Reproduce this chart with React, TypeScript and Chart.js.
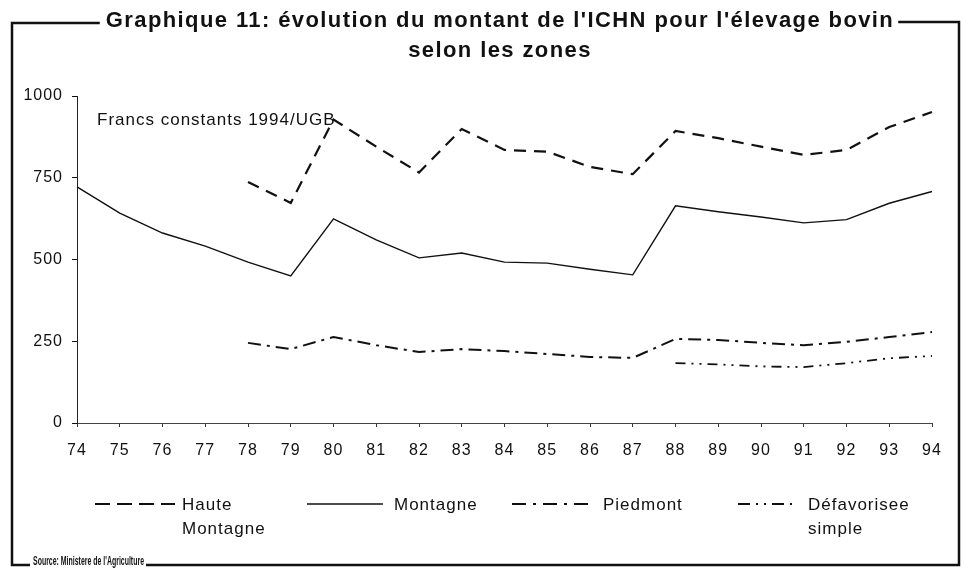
import React, { useEffect, useRef } from 'react';
import { Chart, registerables } from 'chart.js';

Chart.register(...registerables);

const years = ['74', '75', '76', '77', '78', '79', '80', '81', '82', '83', '84', '85', '86', '87', '88', '89', '90', '91', '92', '93', '94'];
const hauteMontagne = [null, null, null, null, 737, 673, 928, 845, 766, 899, 835, 830, 783, 761, 893, 871, 845, 820, 835, 905, 951];
const montagne = [722, 642, 581, 541, 492, 450, 624, 560, 505, 520, 492, 489, 470, 453, 664, 646, 630, 612, 622, 672, 708];
const piedmont = [null, null, null, null, 245, 226, 263, 238, 217, 226, 220, 211, 202, 199, 257, 254, 245, 238, 248, 263, 278];
const defavorisee = [null, null, null, null, null, null, null, null, null, null, null, null, null, null, 183, 179, 173, 171, 183, 198, 205];
const yMin = 0;
const yMax = 1000;
const yStep = 250;

const titleLine1 = "Graphique 11: évolution du montant de l'ICHN pour l'élevage bovin";
const titleLine2 = 'selon les zones';
const unitNote = 'Francs constants 1994/UGB';
const sourceNote = "Source: Ministere de l'Agriculture";
const seriesNames = [['Haute', 'Montagne'], ['Montagne'], ['Piedmont'], ['Défavorisee', 'simple']];

const FONT = '"Liberation Sans", Arial, Helvetica, sans-serif';
const INK = '#111';

const dashHaute = [12, 8];
const dashMontagne: number[] = [];
const dashPiedmont = [13, 6, 3, 6];
const dashDefav = [10, 6, 2, 6, 2, 6];

const legendLayout = [
  { x0: 95, x1: 175, tx: 182, dash: [15, 7], width: 2.2 },
  { x0: 307, x1: 383, tx: 394, dash: [], width: 1.3 },
  { x0: 512, x1: 592, tx: 603, dash: [14, 7, 3, 7], width: 2 },
  { x0: 738, x1: 793, tx: 808, dash: [12, 6, 2, 6, 2, 6], width: 1.8 },
];

const decorPlugin = {
  id: 'decor',
  beforeUpdate(chart: any) {
    chart.ctx.letterSpacing = '1px';
  },
  beforeDraw(chart: any) {
    const ctx = chart.ctx;
    ctx.save();
    ctx.fillStyle = '#fff';
    ctx.fillRect(0, 0, chart.width, chart.height);
    ctx.restore();
    ctx.letterSpacing = '1px';
  },
  afterDraw(chart: any) {
    const ctx = chart.ctx as CanvasRenderingContext2D;
    ctx.save();
    ctx.fillStyle = INK;
    ctx.strokeStyle = INK;

    // Title
    ctx.font = `bold 22px ${FONT}`;
    (ctx as any).letterSpacing = '1.4px';
    ctx.textAlign = 'center';
    ctx.textBaseline = 'middle';
    const cx = 500;
    ctx.fillText(titleLine1, cx, 21);
    const w1 = ctx.measureText(titleLine1).width;
    ctx.fillText(titleLine2, cx, 51);

    // Frame
    const fl = 12, fr = 959, ft = 23, fb = 565;
    ctx.lineWidth = 2.5;
    ctx.setLineDash([]);
    ctx.beginPath();
    ctx.moveTo(cx - w1 / 2 - 6, ft);
    ctx.lineTo(fl, ft);
    ctx.lineTo(fl, fb);
    ctx.lineTo(30, fb);
    ctx.stroke();

    ctx.beginPath();
    ctx.moveTo(cx + w1 / 2 + 4, ft - 1);
    ctx.lineTo(fr, ft - 1);
    ctx.lineTo(fr, fb);
    ctx.lineTo(146, fb);
    ctx.stroke();

    // Source
    ctx.font = `bold 12px ${FONT}`;
    (ctx as any).letterSpacing = '0px';
    ctx.textAlign = 'left';
    const sw = ctx.measureText(sourceNote).width;
    ctx.save();
    ctx.translate(33, 562);
    ctx.scale(111 / sw, 1);
    ctx.fillText(sourceNote, 0, 0);
    ctx.restore();

    // Unit note
    ctx.font = `17px ${FONT}`;
    (ctx as any).letterSpacing = '1px';
    ctx.textAlign = 'left';
    ctx.textBaseline = 'middle';
    ctx.fillText(unitNote, 97, 120);

    // Legend
    const ly = 504;
    legendLayout.forEach((item, i) => {
      ctx.lineWidth = item.width;
      ctx.setLineDash(item.dash);
      ctx.beginPath();
      ctx.moveTo(item.x0, ly);
      ctx.lineTo(item.x1, ly);
      ctx.stroke();
      ctx.setLineDash([]);
      seriesNames[i].forEach((line, j) => {
        ctx.fillText(line, item.tx, ly + 1 + j * 24);
      });
    });

    ctx.restore();
  },
};

export default function App() {
  const ref = useRef<HTMLCanvasElement>(null);

  useEffect(() => {
    if (!ref.current) return;
    const chart = new Chart(ref.current, {
      type: 'line',
      data: {
        labels: years,
        datasets: [
          { label: 'Haute Montagne', data: hauteMontagne, borderColor: INK, borderWidth: 2.2, borderDash: dashHaute, pointRadius: 0, tension: 0, fill: false, spanGaps: false },
          { label: 'Montagne', data: montagne, borderColor: INK, borderWidth: 1.4, borderDash: dashMontagne, pointRadius: 0, tension: 0, fill: false },
          { label: 'Piedmont', data: piedmont, borderColor: INK, borderWidth: 2, borderDash: dashPiedmont, pointRadius: 0, tension: 0, fill: false },
          { label: 'Défavorisee simple', data: defavorisee, borderColor: INK, borderWidth: 1.8, borderDash: dashDefav, pointRadius: 0, tension: 0, fill: false },
        ],
      },
      options: {
        responsive: false,
        animation: false,
        events: [],
        layout: { padding: { left: 0, right: 32, top: 96, bottom: 0 } },
        plugins: {
          legend: { display: false },
          tooltip: { enabled: false },
          title: { display: false },
        },
        scales: {
          x: {
            type: 'category',
            offset: false,
            grid: { display: true, drawOnChartArea: false, drawTicks: true, tickLength: 4, color: '#333', tickWidth: 1 },
            border: { display: true, color: '#444', width: 1, dash: [4, 4] },
            ticks: { color: INK, font: { family: FONT, size: 16 }, padding: 14, maxRotation: 0, autoSkip: false },
            afterFit: (scale: any) => { scale.height = 149; },
          },
          y: {
            min: yMin,
            max: yMax,
            grid: { display: true, drawOnChartArea: false, drawTicks: true, tickLength: 5, color: INK, tickWidth: 1 },
            border: { display: true, color: '#222', width: 1, dash: [8, 2] },
            ticks: { stepSize: yStep, color: INK, font: { family: FONT, size: 16 }, padding: 9, callback: (v: any) => String(v) },
            afterFit: (scale: any) => { scale.width = 77; },
          },
        },
      },
      plugins: [decorPlugin],
    });
    return () => chart.destroy();
  }, []);

  return (
    <div style={{ position: 'absolute', left: 0, top: 0, width: 964, height: 572, background: '#fff' }}>
      <canvas ref={ref} width={964} height={572} style={{ display: 'block', width: 964, height: 572 }} />
    </div>
  );
}
